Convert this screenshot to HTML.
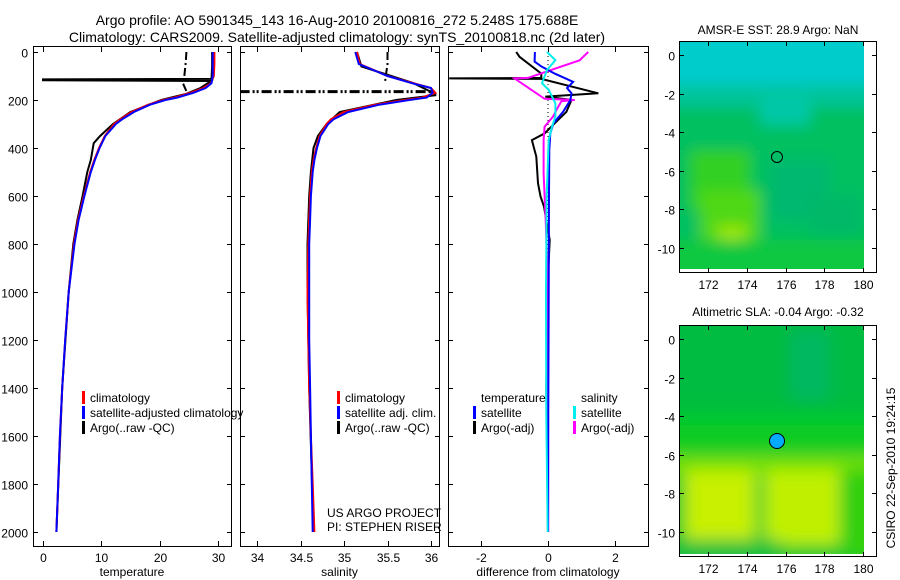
<!DOCTYPE html>
<html><head><meta charset="utf-8"><style>
body{margin:0;background:#fff;}
svg{display:block;font-family:"Liberation Sans",sans-serif;}
</style></head><body>
<svg id="fig" width="900" height="580" viewBox="0 0 900 580">
<defs>
<filter id="blur1" filterUnits="userSpaceOnUse" x="640" y="0" width="260" height="300"><feGaussianBlur stdDeviation="7"/></filter>
<filter id="blur2" filterUnits="userSpaceOnUse" x="640" y="290" width="260" height="300"><feGaussianBlur stdDeviation="8"/></filter>
<clipPath id="m1c"><rect x="680" y="42" width="184" height="227"/></clipPath>
<clipPath id="m2c"><rect x="680" y="326" width="184" height="228"/></clipPath>
<clipPath id="p1c"><rect x="33" y="47" width="198" height="499"/></clipPath>
<clipPath id="p2c"><rect x="240" y="47" width="199" height="499"/></clipPath>
<clipPath id="p3c"><rect x="448" y="47" width="200" height="499"/></clipPath>
</defs>
<text x="337" y="25" font-size="14" text-anchor="middle">Argo profile: AO 5901345_143 16-Aug-2010 20100816_272 5.248S 175.688E</text>
<text x="337" y="42" font-size="14" text-anchor="middle">Climatology: CARS2009. Satellite-adjusted climatology: synTS_20100818.nc (2d later)</text>

<g>
<g clip-path="url(#m1c)">
<g filter="url(#blur1)">
<rect x="660" y="20" width="230" height="270" fill="#00c060"/>
<rect x="660" y="20" width="230" height="65" fill="#00cccc"/>
<rect x="660" y="85" width="230" height="22" fill="#00c49a"/>
<rect x="760" y="95" width="50" height="30" fill="#00c8a8"/>
<rect x="690" y="150" width="60" height="60" fill="#30d020"/>
<rect x="700" y="190" width="60" height="50" fill="#50d818"/>
<rect x="770" y="160" width="60" height="60" fill="#00b870"/>
<rect x="660" y="240" width="230" height="50" fill="#10c840"/>
<rect x="810" y="195" width="50" height="40" fill="#00b868"/>
<rect x="718" y="226" width="28" height="14" fill="#a0e800"/>
</g>
</g>
<rect x="864" y="42" width="12" height="230" fill="#fff"/>
<rect x="679.5" y="41.5" width="197" height="231" fill="none" stroke="#000"/>
<circle cx="777" cy="157" r="5.5" fill="none" stroke="#000"/>
</g>
<text x="778" y="34" font-size="12" text-anchor="middle">AMSR-E SST: 28.9 Argo: NaN</text>

<g>
<g clip-path="url(#m2c)">
<g filter="url(#blur2)">
<rect x="660" y="300" width="230" height="270" fill="#00c830"/>
<rect x="660" y="300" width="230" height="110" fill="#00bc40"/>
<rect x="790" y="330" width="40" height="70" fill="#00b860"/>
<rect x="660" y="425" width="230" height="25" fill="#10cc20"/>
<rect x="660" y="455" width="230" height="20" fill="#70e000"/>
<rect x="685" y="470" width="70" height="70" fill="#c8f000"/>
<rect x="765" y="470" width="75" height="75" fill="#c0f000"/>
<rect x="660" y="540" width="120" height="30" fill="#10c040"/>
<rect x="845" y="470" width="40" height="90" fill="#30d010"/>
</g>
</g>
<rect x="864" y="326" width="12" height="230" fill="#fff"/>
<rect x="679.5" y="325.5" width="197" height="231" fill="none" stroke="#000"/>
<circle cx="777" cy="441" r="7.5" fill="#00aaff" stroke="#000"/>
</g>
<text x="778" y="316" font-size="12" text-anchor="middle">Altimetric SLA: -0.04 Argo: -0.32</text>
<text transform="translate(895,468) rotate(-90)" font-size="12" text-anchor="middle">CSIRO 22-Sep-2010 19:24:15</text>

<g id="axes"></g>
<g id="marks"></g>

<text x="327" y="517" font-size="12">US ARGO PROJECT</text>
<text x="327" y="531" font-size="12">PI: STEPHEN RISER</text>
</svg>
<script>
const depthTicks = [0,200,400,600,800,1000,1200,1400,1600,1800,2000];
const tempTicks = [0,10,20,30];
const salTicks = [34,34.5,35,35.5,36];
const diffTicks = [-2,0,2];
const lonTicks = [172,174,176,178,180];
const latTicks = [0,-2,-4,-6,-8,-10];

const climDepth = [0,50,100,130,150,170,190,200,220,250,280,300,350,400,450,500,600,700,800,1000,1200,1400,1600,1800,2000];
const climTemp  = [29.4,29.4,29.3,28.8,27.5,25.3,22.5,20.6,18,15.2,13.3,12.2,10.6,9.6,8.8,8.1,7,6,5.3,4.4,3.8,3.3,2.9,2.6,2.3];
const satTemp   = [29.1,29.1,29.1,28.9,27.9,25.8,23,21,18.3,15.6,13.6,12.5,10.7,9.7,8.9,8.2,7.1,6.1,5.4,4.4,3.8,3.3,2.9,2.6,2.3];
const argoDepth = [0,60,112,114,118,121,125,150,175,200,250,300,350,380,450,500,600,700,800,1000,1400,2000];
const argoTemp  = [29,29,28.9,0,0,28.8,28.6,27,24.5,20.3,15,12,9.8,8.7,8.2,7.6,6.8,5.9,5.2,4.4,3.3,2.3];
const rawDepth = [0,40,110,130,175];
const rawTemp  = [24.6,24.5,24.2,24,24.8];

const climSal = [35.15,35.18,35.5,35.8,36.0,36.05,35.9,35.7,35.35,35.0,34.85,34.8,34.72,34.68,34.65,34.63,34.61,34.6,34.59,34.58,34.59,34.6,34.62,34.64,34.66];
const satSal  = [35.13,35.17,35.5,35.78,36.0,36.02,35.95,35.75,35.4,35.05,34.88,34.82,34.73,34.69,34.66,34.64,34.62,34.61,34.6,34.6,34.6,34.61,34.62,34.63,34.64];
const argoSDepth = [0,60,130,175,180,200,250,300,350,400,500,600,800,1000,1400,2000];
const argoSal    = [35.15,35.2,35.8,36.05,36.05,35.6,34.95,34.8,34.7,34.65,34.62,34.6,34.58,34.58,34.6,34.65];
const spikeSDepth = [165,165];
const spikeSal = [33.8,36.0];
const rawSDepth = [0,50,100,130];
const rawSal = [35.5,35.5,35.48,35.47];

const dTsDepth = [0,40,60,90,124,150,172,200,249,297,339,408,600,1000,1500,2000];
const dTsat    = [-0.39,-0.4,-0.2,0.2,0.75,0.57,0.7,0.67,0.45,0.16,0.07,0.04,0.03,0.02,0.01,0];
const dTaDepth = [0,10,20,90,108,110,112,172,186,200,249,297,339,367,436,547,603,644,783,1000,1400,2000];
const dTargo   = [-0.95,-0.9,-0.85,-0.2,-0.2,-2.95,-0.2,1.5,-0.08,0.7,0.55,0.2,-0.1,-0.48,-0.35,-0.3,-0.22,-0.12,0.05,-0.02,-0.05,0];
const dSsDepth = [0,34,75,130,158,214,269,311,367,600,1000,1500,2000];
const dSsat    = [-0.03,0.22,-0.03,-0.18,0.02,0.22,0.22,0.12,0.02,-0.04,-0.06,-0.05,-0.01];
const dSaDepth = [0,20,34,108,110,195,200,205,230,269,311,367,505,700,1000,1500,2000];
const dSargo   = [1.2,1.05,0.95,-0.6,-1.0,-0.1,0.8,0.4,0.3,0.15,-0.1,-0.13,-0.13,-0.07,0.0,0.0,0.01];

const NS = 'http://www.w3.org/2000/svg';
const axes = document.getElementById('axes');
const marks = document.getElementById('marks');
const yD = d => 52 + d * 0.24;
const xT = t => 43 + t * 5.83;
const xS = s => 257 + (s - 34) * 87;
const xDf = v => 548 + v * 33.5;
const xLon = l => 708 + (l - 172) * 19.4;
const yLat1 = a => 55 - a * 19.3;
const yLat2 = a => 339 - a * 19.3;

function mk(tag, attrs, parent) {
  const e = document.createElementNS(NS, tag);
  for (const k in attrs) e.setAttribute(k, attrs[k]);
  parent.appendChild(e);
  return e;
}
function txt(x, y, s, anchor, size, parent) {
  const t = mk('text', {x: x, y: y, 'font-size': size || 12, 'text-anchor': anchor || 'middle'}, parent);
  t.textContent = s;
  return t;
}

const panels = [
  {x0: 33, x1: 231, name: 'temperature-panel', title: 'temperature', ticks: tempTicks, fx: xT},
  {x0: 240, x1: 439, name: 'salinity-panel', title: 'salinity', ticks: salTicks, fx: xS},
  {x0: 448, x1: 648, name: 'difference-panel', title: 'difference from climatology', ticks: diffTicks, fx: xDf}
];
panels.forEach((p, i) => {
  const g = mk('g', {}, axes);
  
  
  mk('rect', {x: p.x0 + 0.5, y: 46.5, width: p.x1 - p.x0, height: 500, fill: 'none', stroke: '#000'}, g);
  depthTicks.forEach(d => {
    const y = Math.round(yD(d)) + 0.5;
    mk('line', {x1: p.x0, x2: p.x0 + 5, y1: y, y2: y, stroke: '#000'}, g);
    mk('line', {x1: p.x1 - 4, x2: p.x1 + 1, y1: y, y2: y, stroke: '#000'}, g);
    if (i === 0) {
      const t = txt(28, y + 5, String(d), 'end', 12, g);
      
      
    }
  });
  p.ticks.forEach(v => {
    const x = Math.round(p.fx(v)) + 0.5;
    mk('line', {x1: x, x2: x, y1: 47, y2: 52, stroke: '#000'}, g);
    mk('line', {x1: x, x2: x, y1: 541, y2: 546, stroke: '#000'}, g);
    const t = txt(x, 562, String(v), 'middle', 12, g);
    
    
  });
  const at = txt((p.x0 + p.x1) / 2, 576, p.title, 'middle', 12, g);
  
  
});
const zl = mk('line', {x1: xDf(0), x2: xDf(0), y1: 52, y2: 440, stroke: '#000', 'stroke-dasharray': '1,3'}, axes);



[[yLat1, 41, 273], [yLat2, 325, 557]].forEach(([fy, top, bot], mi) => {
  const g = mk('g', {}, axes);
  
  
  latTicks.forEach(a => {
    const y = Math.round(fy(a)) + 0.5;
    mk('line', {x1: 679, x2: 684, y1: y, y2: y, stroke: '#000'}, g);
    mk('line', {x1: 872, x2: 877, y1: y, y2: y, stroke: '#000'}, g);
    txt(675, y + 5, String(a), 'end', 12, g);
  });
  lonTicks.forEach(l => {
    const x = Math.round(xLon(l)) + 0.5;
    mk('line', {x1: x, x2: x, y1: top, y2: top + 5, stroke: '#000'}, g);
    mk('line', {x1: x, x2: x, y1: bot - 5, y2: bot, stroke: '#000'}, g);
    txt(x, bot + 16, String(l), 'middle', 12, g);
  });
});

function line(xs, ds, fx, color, name, clip, dash, w) {
  const pts = xs.map((v, i) => fx(v).toFixed(1) + ',' + yD(ds[i]).toFixed(1)).join(' ');
  const e = mk('polyline', {points: pts, fill: 'none', stroke: color, 'stroke-width': w || 2, 'clip-path': 'url(#' + clip + ')'}, marks);
  if (dash) e.setAttribute('stroke-dasharray', dash);
  
  
}
line(rawTemp, rawDepth, xT, '#000', 'argo-raw-temperature', 'p1c', '8,3,2,3');
line(argoTemp, argoDepth, xT, '#000', 'argo-temperature', 'p1c');
line(climTemp, climDepth, xT, '#f00', 'climatology-temperature', 'p1c');
line(satTemp, climDepth, xT, '#00f', 'satellite-temperature', 'p1c');

line(rawSal, rawSDepth, xS, '#000', 'argo-raw-salinity', 'p2c', '8,3,2,3');
line(spikeSal, spikeSDepth, xS, '#000', 'argo-salinity-spike', 'p2c', '10,3,2,2,2,3', 3);
line(argoSal, argoSDepth, xS, '#000', 'argo-salinity', 'p2c');
line(climSal, climDepth, xS, '#f00', 'climatology-salinity', 'p2c');
line(satSal, climDepth, xS, '#00f', 'satellite-salinity', 'p2c');

line(dTargo, dTaDepth, xDf, '#000', 'diff-temperature-argo', 'p3c');
line(dSargo, dSaDepth, xDf, '#f0f', 'diff-salinity-argo', 'p3c');
line(dTsat, dTsDepth, xDf, '#00f', 'diff-temperature-satellite', 'p3c');
line(dSsat, dSsDepth, xDf, '#0ee', 'diff-salinity-satellite', 'p3c');

function legend(x, y, entries, name) {
  const g = mk('g', {}, marks);
  
  
  entries.forEach(([c, s], i) => {
    const yy = y + i * 15;
    if (c) mk('rect', {x: x, y: yy - 6, width: 3, height: 13, fill: c}, g);
    txt(x + 8, yy + 5, s, 'start', 12, g);
  });
}
legend(82, 397, [['#f00', 'climatology'], ['#00f', 'satellite-adjusted climatology'], ['#000', 'Argo(..raw -QC)']], 'temperature-legend');
legend(337, 397, [['#f00', 'climatology'], ['#00f', 'satellite adj. clim.'], ['#000', 'Argo(..raw -QC)']], 'salinity-legend');
legend(473, 397, [[null, 'temperature'], ['#00f', 'satellite'], ['#000', 'Argo(-adj)']], 'diff-temperature-legend');
legend(573, 397, [[null, 'salinity'], ['#0ee', 'satellite'], ['#f0f', 'Argo(-adj)']], 'diff-salinity-legend');
</script>
</body></html>
